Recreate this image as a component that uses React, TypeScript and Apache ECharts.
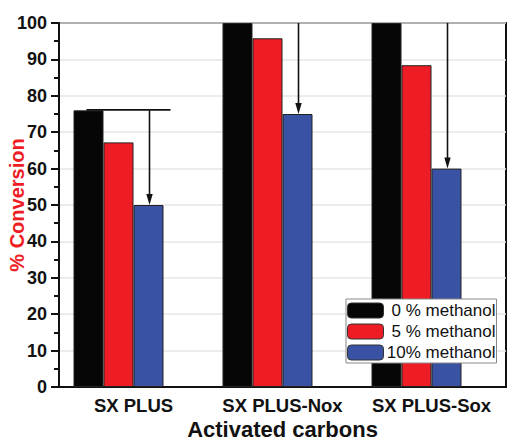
import React, { useEffect, useRef } from "react";
import * as echarts from "echarts";

const categories = ["SX PLUS", "SX PLUS-Nox", "SX PLUS-Sox"];
const seriesNames = ["0 % methanol", "5 % methanol", "10% methanol"];
const values0 = [76, 100, 100];
const values5 = [67.2, 95.8, 88.4];
const values10 = [50, 75, 60];
const yTicks = { min: 0, max: 100, interval: 10 };
// arrows: from value down to value (over the 10% bar)
const arrowCats = [0, 1, 2];
const arrowFrom = [76, 100, 100];
const arrowTo = [50, 75, 60];
// horizontal reference line
const refCats = [0];
const refValues = [76];

const FONT = "'Liberation Sans', Arial, Helvetica, sans-serif";
const colors = ["#060606", "#ee1d25", "#3a52a3"];

export default function App() {
  const ref = useRef<HTMLDivElement>(null);
  useEffect(() => {
    if (!ref.current) return;
    const chart = echarts.init(ref.current, null, { renderer: "svg" });
    const barBase = {
      type: "bar",
      barWidth: 30,
      barGap: "0%",
    };
    const arrowData = arrowCats.map((c, i) => [c, arrowFrom[i], arrowTo[i]]);
    const refData = refCats.map((c, i) => [c, refValues[i]]);
    chart.setOption({
      animation: false,
      backgroundColor: "#ffffff",
      textStyle: { fontFamily: FONT },
      grid: {
        left: 59,
        right: 1,
        top: 23,
        bottom: 55,
        containLabel: false,
        outerBoundsMode: "none",
        show: true,
        borderColor: "#111",
        borderWidth: 2,
        backgroundColor: "transparent",
      },
      legend: {
        data: seriesNames,
        orient: "vertical",
        left: 346,
        top: 299,
        itemWidth: 36,
        itemHeight: 15,
        itemGap: 4,
        padding: [3, 1, 2, 1],
        borderColor: "#888",
        borderWidth: 1,
        backgroundColor: "#fff",
        itemStyle: { borderColor: "#333", borderWidth: 1 },
        formatter: (name: string) => `{r|${name}}`,
        textStyle: {
          fontFamily: FONT,
          fontSize: 17,
          color: "#111",
          rich: { r: { width: 107, align: "right", fontFamily: FONT, fontSize: 17, color: "#111" } },
        },
      },
      xAxis: {
        type: "category",
        data: categories,
        name: "Activated carbons",
        nameLocation: "middle",
        nameGap: 31,
        nameMoveOverlap: false,
        nameTextStyle: { fontFamily: FONT, fontSize: 22, fontWeight: "bold", color: "#111" },
        axisLine: { lineStyle: { color: "#111", width: 2 } },
        axisTick: { alignWithLabel: true, length: 7, lineStyle: { color: "#111", width: 2 } },
        axisLabel: { interval: 0, fontFamily: FONT, fontSize: 18.5, fontWeight: "bold", color: "#111", margin: 9 },
      },
      yAxis: {
        type: "value",
        min: yTicks.min,
        max: yTicks.max,
        interval: yTicks.interval,
        name: "% Conversion",
        nameLocation: "middle",
        nameGap: 32,
        nameMoveOverlap: false,
        nameTextStyle: { fontFamily: FONT, fontSize: 20, fontWeight: "bold", color: "#ee1d25" },
        axisLine: { show: true, lineStyle: { color: "#111", width: 2 } },
        axisTick: { show: true, length: 8, lineStyle: { color: "#111", width: 2 } },
        minorTick: { show: true, splitNumber: 2, length: 5, lineStyle: { color: "#111", width: 2 } },
        splitLine: { show: true, lineStyle: { color: "#e6e6e6", width: 1.5 } },
        axisLabel: { fontFamily: FONT, fontSize: 18, fontWeight: "bold", color: "#111", margin: 12 },
      },
      series: [
        { ...barBase, name: seriesNames[0], data: values0, itemStyle: { color: colors[0], borderColor: "#222", borderWidth: 1 } },
        { ...barBase, name: seriesNames[1], data: values5, itemStyle: { color: colors[1], borderColor: "#222", borderWidth: 1 } },
        { ...barBase, name: seriesNames[2], data: values10, itemStyle: { color: colors[2], borderColor: "#222", borderWidth: 1 } },
        {
          ...barBase,
          name: "spacer",
          data: [0, 0, 0],
          silent: true,
          itemStyle: { color: "transparent", borderWidth: 0 },
        },
        {
          type: "custom",
          name: "arrows",
          data: arrowData,
          clip: false,
          z: 10,
          silent: true,
          encode: { x: 0, y: [1, 2] },
          renderItem: (params: any, api: any) => {
            const c = api.value(0);
            const p1 = api.coord([c, api.value(1)]);
            const p2 = api.coord([c, api.value(2)]);
            const x = p1[0] + 16;
            const ah = 11;
            const aw = 3.2;
            return {
              type: "group",
              children: [
                {
                  type: "line",
                  shape: { x1: x, y1: p1[1], x2: x, y2: p2[1] - ah + 1 },
                  style: { stroke: "#111", lineWidth: 1.6 },
                },
                {
                  type: "polygon",
                  shape: { points: [[x - aw, p2[1] - ah], [x + aw, p2[1] - ah], [x, p2[1]]] },
                  style: { fill: "#111" },
                },
              ],
            };
          },
        },
        {
          type: "custom",
          name: "refline",
          data: refData,
          clip: false,
          z: 10,
          silent: true,
          encode: { x: 0, y: 1 },
          renderItem: (params: any, api: any) => {
            const p = api.coord([api.value(0), api.value(1)]);
            return {
              type: "line",
              shape: { x1: p[0] - 47, y1: p[1] - 0.5, x2: p[0] + 37, y2: p[1] - 0.5 },
              style: { stroke: "#111", lineWidth: 1.6 },
            };
          },
        },
      ],
    });
    return () => chart.dispose();
  }, []);
  return (
    <div
      ref={ref}
      style={{ position: "absolute", left: 0, top: 0, width: 507, height: 442 }}
    />
  );
}
